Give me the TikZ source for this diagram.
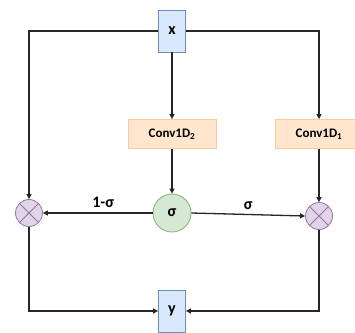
\documentclass[tikz,border=0pt]{standalone}
\usepackage{fontspec}
\setmainfont{Carlito}
\usetikzlibrary{arrows.meta}
\definecolor{bfill}{HTML}{DAE8FC}
\definecolor{bline}{HTML}{6C8EBF}
\definecolor{ofill}{HTML}{FFE6CC}
\definecolor{oline}{HTML}{FFC89A}
\definecolor{gfill}{HTML}{D5E8D4}
\definecolor{gline}{HTML}{82B366}
\definecolor{pfill}{HTML}{E1D5E7}
\definecolor{pline}{HTML}{9673A6}
\tikzset{
  iobox/.style={draw=bline, fill=bfill, line width=0.8pt, minimum width=27pt, minimum height=42pt, inner sep=0pt, font=\fontsize{16}{18}\selectfont\bfseries},
  convbox/.style={draw=oline, fill=ofill, line width=0.8pt, minimum width=88pt, minimum height=29pt, inner sep=0pt, font=\fontsize{13}{15}\selectfont\bfseries},
  sigbox/.style={circle, draw=gline, fill=gfill, line width=0.8pt, minimum size=38pt, inner sep=0pt, font=\fontsize{16}{18}\selectfont\bfseries},
  mulbox/.style={circle, draw=pline, fill=pfill, line width=0.8pt, minimum size=27pt, inner sep=0pt},
  conn/.style={line width=1.3pt, draw=black!85},
  arr/.style={conn, -{Triangle[length=5pt,width=5pt]}},
  lab/.style={font=\fontsize{16}{18}\selectfont\bfseries}
}
\begin{document}
\begin{tikzpicture}[x=1pt,y=-1pt]
\useasboundingbox (0,0) rectangle (355,332);
\begin{scope}
\clip (0,0) rectangle (355,332);
\node[convbox] (c1) at (319,134) {Conv1D\textsubscript{1}};
\end{scope}
\node[iobox] (x) at (172,31) {x};
\node[convbox] (c2) at (172,134) {Conv1D\textsubscript{2}};
\node[sigbox] (s) at (172,213) {σ};
\node[mulbox] (m1) at (29,213) {};
\node[mulbox] (m2) at (319,216) {};
\node[iobox] (y) at (172,311) {y};
\foreach \m in {m1,m2}{
  \draw[pline, line width=0.8pt] (\m.45) -- (\m.225) (\m.135) -- (\m.315);
}
\coordinate (tl) at (29,31);
\coordinate (tr) at (319,31);
\coordinate (bl) at (29,311);
\coordinate (br) at (319,311);
\draw[arr] (x.west) -- (tl) -- (m1.north);
\draw[arr] (x.east) -- (tr) -- (c1.north);
\draw[arr] (x.south) -- (c2.north);
\draw[arr] (c2.south) -- (s.north);
\draw[arr] (c1.south) -- (m2.north);
\draw[arr] (s.west) -- node[lab, above=1pt, pos=0.45] {1-σ} (m1.east);
\draw[arr] (s.east) -- node[lab, above=1pt, pos=0.5] {σ} (m2.west);
\draw[arr] (m1.south) -- (bl) -- (y.west);
\draw[arr] (m2.south) -- (br) -- (y.east);
\end{tikzpicture}
\end{document}
